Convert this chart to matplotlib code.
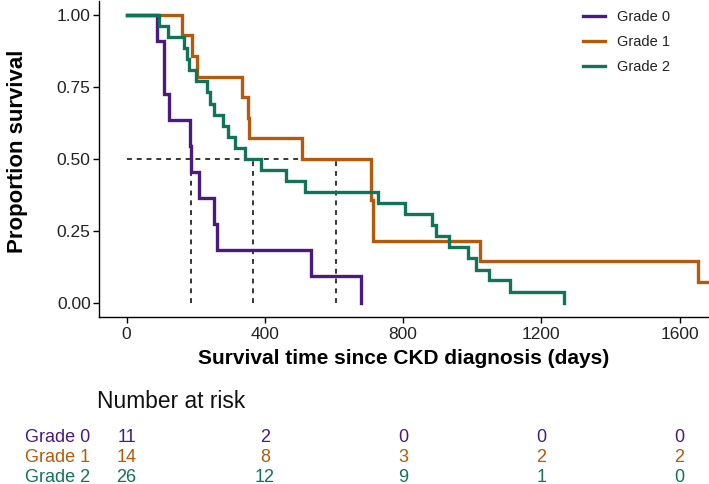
import matplotlib
matplotlib.use("Agg")
import matplotlib.pyplot as plt
import matplotlib.transforms as mtransforms
import numpy as np

plt.rcParams['font.family'] = ['Liberation Sans', 'DejaVu Sans']

groups = ["Grade 0", "Grade 1", "Grade 2"]
colors = ["#4b1a80", "#b35a0c", "#11735a"]

g0_time = [0, 87, 108, 123, 182, 187, 208, 253, 262, 533, 677]
g0_surv = [1.0, 0.909, 0.727, 0.636, 0.545, 0.455, 0.364, 0.273, 0.182, 0.091, 0.0]

g1_time = [0, 161, 190, 205, 333, 352, 355, 507, 707, 714, 1022, 1654, 1678]
g1_surv = [1.0, 0.929, 0.857, 0.786, 0.714, 0.643, 0.571, 0.5, 0.357, 0.214, 0.143, 0.071, 0.071]

g2_time = [0, 95, 119, 167, 176, 180, 201, 232, 241, 253, 278, 293, 314, 343, 389,
           461, 516, 728, 805, 883, 895, 934, 988, 1011, 1049, 1109, 1266]
g2_surv = [1.0, 0.962, 0.923, 0.885, 0.846, 0.808, 0.769, 0.731, 0.692, 0.654, 0.615,
           0.577, 0.538, 0.5, 0.462, 0.423, 0.385, 0.346, 0.308, 0.269, 0.231, 0.192,
           0.154, 0.115, 0.077, 0.038, 0.0]

risk_times = [0, 400, 800, 1200, 1600]
risk_g0 = [11, 2, 0, 0, 0]
risk_g1 = [14, 8, 3, 2, 2]
risk_g2 = [26, 12, 9, 1, 0]

x_ticks = [0, 400, 800, 1200, 1600]
y_ticks = [0.0, 0.25, 0.5, 0.75, 1.0]
y_ticklabels = ["0.00", "0.25", "0.50", "0.75", "1.00"]

times = [g0_time, g1_time, g2_time]
survs = [g0_surv, g1_surv, g2_surv]
risks = [risk_g0, risk_g1, risk_g2]


def km_median(t, s):
    t = np.asarray(t, float)
    s = np.asarray(s, float)
    for i in range(len(s)):
        if abs(s[i] - 0.5) < 1e-3:
            nxt = t[i + 1] if i + 1 < len(t) else t[i]
            return (t[i] + nxt) / 2
        if s[i] < 0.5:
            return t[i]
    return None


W, H = 709, 484
fig = plt.figure(figsize=(W / 100, H / 100), dpi=100)
ax_bottom_px = 317.0
ax_top_px = 0.6
ax = fig.add_axes([99 / W, (H - ax_bottom_px) / H, 610 / W, (ax_bottom_px - ax_top_px) / H])

for g, t, s, c in zip(groups, times, survs, colors):
    ax.step(t, s, where='post', color=c, lw=2.4, label=g, solid_joinstyle='miter')

medians = [km_median(t, s) for t, s in zip(times, survs)]
ax.plot([0, max(medians)], [0.5, 0.5], ls=(0, (3.2, 3.2)), color='black', lw=1.1, zorder=1)
for m in medians:
    ax.plot([m, m], [0, 0.5], ls=(0, (3.2, 3.2)), color='black', lw=1.1, zorder=1)

ax.set_xlim(-80, 1685)
ax.set_ylim(-0.05, 1.05)
ax.set_xticks(x_ticks)
ax.set_yticks(y_ticks)
ax.set_yticklabels(y_ticklabels)
for side in ['top', 'right']:
    ax.spines[side].set_visible(False)
for side in ['left', 'bottom']:
    ax.spines[side].set_linewidth(1.0)
ax.tick_params(axis='both', length=4, width=1.0, labelsize=12.5, colors='black')
ax.tick_params(axis='x', pad=3)
ax.tick_params(axis='y', pad=2)
ax.tick_params(axis='both', labelcolor='#222222')
ax.set_xlabel("Survival time since CKD diagnosis (days)", fontsize=15, fontweight='bold', labelpad=5)
ax.set_ylabel("Proportion survival", fontsize=16, fontweight='bold')
ax.yaxis.set_label_coords((28 - 99) / 610, (317 - 151) / 316.4)

leg = ax.legend(loc='upper left', bbox_to_anchor=(583 / W, 1 - 10 / H), bbox_transform=fig.transFigure,
                frameon=False, fontsize=10.5, handlelength=1.5, handletextpad=0.8,
                labelspacing=0.75, borderaxespad=0, borderpad=0)
for txt in leg.get_texts():
    txt.set_color('#222222')

# Risk table
fig.text(97 / W, 1 - 401 / H, "Number at risk", fontsize=16.4, va='center', ha='left', color='#111111')
trans = mtransforms.blended_transform_factory(ax.transData, fig.transFigure)
row_y = [437, 457, 477]
for g, r, c, yy in zip(groups, risks, colors, row_y):
    fig.text(90 / W, 1 - yy / H, g, fontsize=13, ha='right', va='center', color=c)
    for xt, v in zip(risk_times, r):
        ax.text(xt, 1 - yy / H, str(v), transform=trans, fontsize=13, ha='center', va='center',
                color=c, clip_on=False)

fig.savefig("out.png", dpi=100)
